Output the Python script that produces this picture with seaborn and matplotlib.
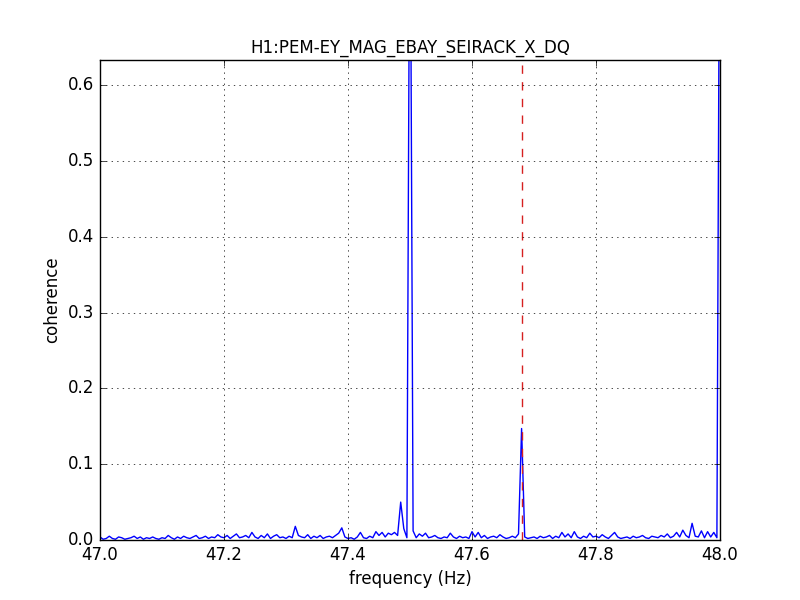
import numpy as np
import pandas as pd
import matplotlib
matplotlib.use("Agg")
import matplotlib.pyplot as plt
import seaborn as sns

# frequency grid: 47.0 .. 48.0 Hz in 0.005 Hz steps (201 bins)
freq_start = 47.0
freq_step = 0.005

# coherence values, 10 bins per row (0.05 Hz)
coherence = [
    0.004, 0.001, 0.002, 0.005, 0.002, 0.001, 0.004, 0.003, 0.001, 0.002,
    0.003, 0.005, 0.002, 0.004, 0.001, 0.003, 0.002, 0.004, 0.002, 0.001,
    0.003, 0.002, 0.006, 0.003, 0.001, 0.004, 0.002, 0.005, 0.003, 0.002,
    0.004, 0.006, 0.002, 0.003, 0.005, 0.002, 0.004, 0.003, 0.007, 0.004,
    0.003, 0.006, 0.002, 0.005, 0.008, 0.003, 0.004, 0.006, 0.003, 0.010,
    0.004, 0.002, 0.006, 0.003, 0.008, 0.002, 0.005, 0.007, 0.003, 0.004,
    0.002, 0.005, 0.003, 0.018, 0.006, 0.004, 0.003, 0.007, 0.002, 0.005,
    0.003, 0.006, 0.002, 0.004, 0.005, 0.003, 0.006, 0.009, 0.016, 0.004,
    0.002, 0.003, 0.001, 0.004, 0.010, 0.003, 0.002, 0.005, 0.003, 0.011,
    0.006, 0.010, 0.004, 0.009, 0.007, 0.010, 0.006, 0.050, 0.015, 0.003,
    0.950, 0.012, 0.003, 0.008, 0.005, 0.009, 0.003, 0.004, 0.006, 0.003,
    0.002, 0.004, 0.003, 0.009, 0.004, 0.002, 0.005, 0.003, 0.004, 0.002,
    0.011, 0.004, 0.010, 0.003, 0.006, 0.002, 0.004, 0.005, 0.003, 0.007,
    0.004, 0.002, 0.003, 0.005, 0.003, 0.008, 0.147, 0.004, 0.002, 0.003,
    0.004, 0.002, 0.005, 0.003, 0.004, 0.006, 0.002, 0.005, 0.003, 0.010,
    0.004, 0.008, 0.003, 0.011, 0.004, 0.002, 0.005, 0.003, 0.009, 0.004,
    0.005, 0.003, 0.007, 0.004, 0.002, 0.006, 0.010, 0.004, 0.002, 0.003,
    0.004, 0.002, 0.005, 0.003, 0.004, 0.006, 0.003, 0.002, 0.005, 0.004,
    0.003, 0.006, 0.004, 0.008, 0.003, 0.005, 0.010, 0.004, 0.013, 0.006,
    0.003, 0.022, 0.005, 0.004, 0.012, 0.003, 0.011, 0.004, 0.010, 0.003,
    1.000,
]

marker_freq = 47.68
channel = "H1:PEM-EY_MAG_EBAY_SEIRACK_X_DQ"

df = pd.DataFrame({
    "frequency": freq_start + freq_step * np.arange(len(coherence)),
    "coherence": coherence,
})

plt.style.use("classic")
fig, ax = plt.subplots(figsize=(8, 6), dpi=100)
fig.patch.set_facecolor("white")

sns.lineplot(data=df, x="frequency", y="coherence", color="b", ax=ax)
ax.axvline(marker_freq, color="#d62020", linestyle="--")

ax.set_xlim(47.0, 48.0)
ax.set_ylim(0, 0.633)
ax.ticklabel_format(axis="x", useOffset=False)
ax.grid(True)
ax.set_title(channel, fontsize=12)
ax.set_xlabel("frequency (Hz)")
ax.set_ylabel("coherence")

fig.savefig("out.png", dpi=100)
